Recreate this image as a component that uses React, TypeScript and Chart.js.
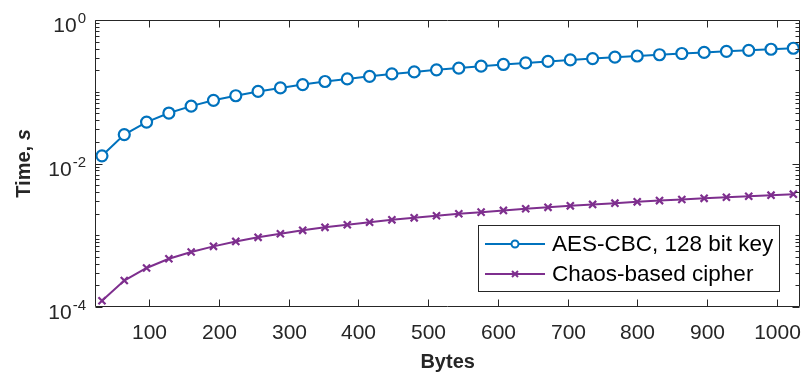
import React, { useEffect, useRef } from "react";
import { Chart, registerables } from "chart.js";

Chart.register(...registerables);

const BYTES = [32, 64, 96, 128, 160, 192, 224, 256, 288, 320, 352, 384, 416, 448, 480, 512, 544, 576, 608, 640, 672, 704, 736, 768, 800, 832, 864, 896, 928, 960, 992, 1024];
const AES_TIME = [0.0128, 0.0253, 0.0378, 0.0505, 0.063, 0.076, 0.088, 0.101, 0.113, 0.126, 0.139, 0.151, 0.164, 0.177, 0.189, 0.202, 0.214, 0.227, 0.24, 0.252, 0.265, 0.278, 0.29, 0.303, 0.315, 0.328, 0.341, 0.353, 0.366, 0.378, 0.391, 0.404];
const CHAOS_TIME = [0.000122, 0.000234, 0.00035, 0.00047, 0.000585, 0.0007, 0.00082, 0.000935, 0.00105, 0.00117, 0.00129, 0.0014, 0.00152, 0.00164, 0.00175, 0.00187, 0.00199, 0.0021, 0.00222, 0.00234, 0.00245, 0.00257, 0.00269, 0.0028, 0.00292, 0.00304, 0.00315, 0.00327, 0.00339, 0.0035, 0.00362, 0.00374];
const SERIES_NAMES = ["AES-CBC, 128 bit key", "Chaos-based cipher"];
const X_TICKS = [100, 200, 300, 400, 500, 600, 700, 800, 900, 1000];
const Y_MAJOR = [1e-4, 1e-2, 1];
const Y_EXP = ["-4", "-2", "0"];
const X_TITLE = "Bytes";
const Y_TITLE_MAIN = "Time, ";
const Y_TITLE_UNIT = "s";

const AXIS = "#262626";
const BLUE = "#0072BD";
const PURPLE = "#7E2F8E";
const FONT = '"Liberation Sans", Arial, sans-serif';

const decorPlugin = {
  id: "decor",
  afterDraw(chart: any) {
    const { ctx, chartArea, scales } = chart;
    const { left, right, top, bottom } = chartArea;
    const xs = scales.x;
    const ys = scales.y;
    ctx.save();
    ctx.strokeStyle = AXIS;
    ctx.fillStyle = AXIS;
    ctx.lineWidth = 1;
    const L = Math.round(left) + 0.5;
    const R = Math.round(right) - 0.5;
    const T = Math.round(top) + 0.5;
    const B = Math.round(bottom) - 0.5;
    ctx.beginPath();
    ctx.rect(L, T, R - L, B - T);
    ctx.stroke();

    // x ticks
    ctx.font = `21px ${FONT}`;
    ctx.textAlign = "center";
    ctx.textBaseline = "alphabetic";
    for (const v of X_TICKS) {
      const px = Math.round(xs.getPixelForValue(v)) + 0.5;
      ctx.beginPath();
      ctx.moveTo(px, B);
      ctx.lineTo(px, B - 7);
      ctx.moveTo(px, T);
      ctx.lineTo(px, T + 7);
      ctx.stroke();
      ctx.fillText(String(v), px, 339);
    }

    // y ticks
    const minor: number[] = [];
    for (let k = -4; k < 0; k++) {
      for (let m = 1; m <= 9; m++) {
        const val = m * Math.pow(10, k);
        if (m === 1 && (k === -4 || k === -2)) continue;
        minor.push(val);
      }
    }
    const drawYTick = (val: number, len: number) => {
      const py = Math.round(ys.getPixelForValue(val)) + 0.5;
      ctx.beginPath();
      ctx.moveTo(L, py);
      ctx.lineTo(L + len, py);
      ctx.moveTo(R, py);
      ctx.lineTo(R - len, py);
      ctx.stroke();
    };
    minor.forEach((v) => drawYTick(v, 4));
    Y_MAJOR.forEach((v) => drawYTick(v, 7));

    // y labels with superscript
    ctx.textAlign = "left";
    Y_MAJOR.forEach((v, i) => {
      const py = ys.getPixelForValue(v);
      ctx.font = `21px ${FONT}`;
      const wBase = ctx.measureText("10").width;
      ctx.font = `15px ${FONT}`;
      const wExp = ctx.measureText(Y_EXP[i]).width;
      const x0 = 85 - wBase - wExp;
      ctx.font = `21px ${FONT}`;
      ctx.fillText("10", x0, py + 12);
      ctx.font = `15px ${FONT}`;
      ctx.fillText(Y_EXP[i], x0 + wBase + 1, py + 3);
    });

    // x title
    ctx.font = `bold 20px ${FONT}`;
    ctx.textAlign = "center";
    ctx.fillText(X_TITLE, (left + right) / 2, 368);

    // y title
    ctx.save();
    ctx.translate(30, (top + bottom) / 2);
    ctx.rotate(-Math.PI / 2);
    ctx.font = `bold 20px ${FONT}`;
    const w1 = ctx.measureText(Y_TITLE_MAIN).width;
    ctx.font = `italic bold 20px ${FONT}`;
    const w2 = ctx.measureText(Y_TITLE_UNIT).width;
    ctx.textAlign = "left";
    const sx = -(w1 + w2) / 2;
    ctx.font = `bold 20px ${FONT}`;
    ctx.fillText(Y_TITLE_MAIN, sx, 0);
    ctx.font = `italic bold 20px ${FONT}`;
    ctx.fillText(Y_TITLE_UNIT, sx + w1, 0);
    ctx.restore();

    // legend
    const lx = 478.5, ly = 225.5, lw = 301, lh = 66;
    ctx.fillStyle = "#ffffff";
    ctx.fillRect(lx, ly, lw, lh);
    ctx.strokeStyle = AXIS;
    ctx.lineWidth = 1;
    ctx.strokeRect(lx, ly, lw, lh);
    const rows = [
      { y: 244, color: BLUE, marker: "circle" },
      { y: 274, color: PURPLE, marker: "cross" },
    ];
    rows.forEach((r, i) => {
      ctx.strokeStyle = r.color;
      ctx.lineWidth = 2;
      ctx.beginPath();
      ctx.moveTo(485, r.y);
      ctx.lineTo(545, r.y);
      ctx.stroke();
      if (r.marker === "circle") {
        ctx.fillStyle = "#ffffff";
        ctx.beginPath();
        ctx.arc(515, r.y, 3.5, 0, Math.PI * 2);
        ctx.fill();
        ctx.stroke();
      } else {
        ctx.beginPath();
        ctx.moveTo(512, r.y - 3);
        ctx.lineTo(518, r.y + 3);
        ctx.moveTo(512, r.y + 3);
        ctx.lineTo(518, r.y - 3);
        ctx.stroke();
      }
      ctx.fillStyle = "#000000";
      ctx.font = `22.5px ${FONT}`;
      ctx.textAlign = "left";
      ctx.textBaseline = "middle";
      ctx.fillText(SERIES_NAMES[i], 552, r.y + 1);
    });
    ctx.restore();
  },
};

export default function App() {
  const canvasRef = useRef<HTMLCanvasElement | null>(null);
  useEffect(() => {
    document.body.style.margin = "0";
    const canvas = canvasRef.current;
    if (!canvas) return;
    const chart = new Chart(canvas, {
      type: "line",
      data: {
        datasets: [
          {
            label: SERIES_NAMES[0],
            data: BYTES.map((b, i) => ({ x: b, y: AES_TIME[i] })),
            borderColor: BLUE,
            borderWidth: 2,
            pointStyle: "circle",
            pointRadius: 5.5,
            pointBorderWidth: 2.2,
            pointBackgroundColor: "#ffffff",
            pointBorderColor: BLUE,
            fill: false,
            tension: 0,
          },
          {
            label: SERIES_NAMES[1],
            data: BYTES.map((b, i) => ({ x: b, y: CHAOS_TIME[i] })),
            borderColor: PURPLE,
            borderWidth: 2,
            pointStyle: "crossRot",
            pointRadius: 5,
            pointBorderWidth: 2.2,
            pointBorderColor: PURPLE,
            fill: false,
            tension: 0,
          },
        ],
      },
      options: {
        animation: false,
        responsive: false,
        maintainAspectRatio: false,
        layout: { padding: { left: 95, right: 3, top: 20, bottom: 69 } },
        plugins: { legend: { display: false }, tooltip: { enabled: false } },
        scales: {
          x: { type: "linear", min: 22, max: 1034, display: false },
          y: { type: "logarithmic", min: 1e-4, max: 1, display: false },
        },
      },
      plugins: [decorPlugin],
    });
    return () => chart.destroy();
  }, []);
  return (
    <div style={{ position: "fixed", left: 0, top: 0, width: 808, height: 376, background: "#fff" }}>
      <canvas ref={canvasRef} width={808} height={376} style={{ width: 808, height: 376 }} />
    </div>
  );
}
